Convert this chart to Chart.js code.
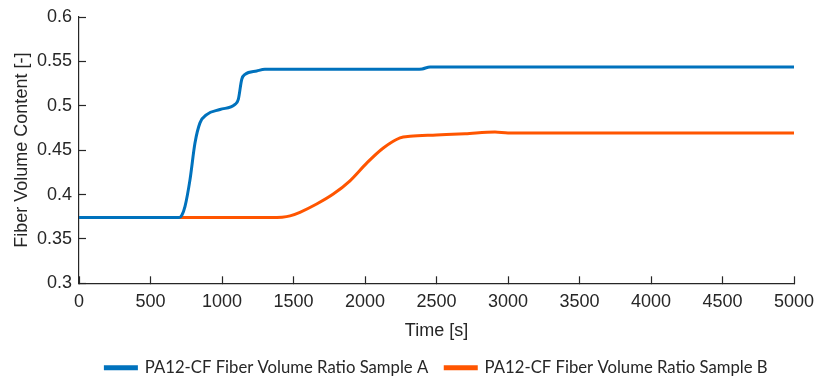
<!DOCTYPE html>
<html>
<head>
<meta charset="utf-8">
<script src="https://cdn.jsdelivr.net/npm/chart.js@4.4.0/dist/chart.umd.min.js"></script>
<style>
  html, body { margin: 0; padding: 0; background: #fff; }
</style>
</head>
<body>
<canvas id="myChart" width="814" height="378"></canvas>
<script>
// time [s] and fiber volume content for each sample
const timeA = [0, 700, 720, 741, 776, 811, 846, 893, 986, 1091, 1114, 1138, 1161, 1243, 1300, 2361, 2400, 2455, 5000];
const fvcA  = [0.374, 0.374, 0.377, 0.3863, 0.4165, 0.458, 0.4807, 0.4901, 0.4958, 0.5015, 0.5071, 0.5298, 0.5354, 0.5392, 0.541, 0.541, 0.5415, 0.5437, 0.5437];

const timeB = [0, 713, 1336, 1420, 1476, 1545, 1662, 1778, 1895, 2012, 2128, 2245, 2315, 2500, 2700, 2909, 3000, 5000];
const fvcB  = [0.374, 0.374, 0.374, 0.3745, 0.376, 0.380, 0.3893, 0.4005, 0.4155, 0.4354, 0.4524, 0.4638, 0.4656, 0.467, 0.4685, 0.4705, 0.4694, 0.4694];

const xTicks = [0, 500, 1000, 1500, 2000, 2500, 3000, 3500, 4000, 4500, 5000];
const yTicks = [0.3, 0.35, 0.4, 0.45, 0.5, 0.55, 0.6];

const labelA = "PA12-CF Fiber Volume Ratio Sample A";
const labelB = "PA12-CF Fiber Volume Ratio Sample B";

const blue = "#0072BD";
const orange = "#FF5500";
const axisColor = "#262626";

const pts = (xs, ys) => xs.map((x, i) => ({ x: x, y: ys[i] }));

// drop the label overhang chart.js adds around the plot area
const noOverhang = s => { s.paddingTop = 0; s.paddingBottom = 0; s.paddingLeft = 0; s.paddingRight = 0; };

const ctx = document.getElementById("myChart");
new Chart(ctx, {
  type: "line",
  data: {
    datasets: [
      {
        label: labelA,
        data: pts(timeA, fvcA),
        borderColor: blue,
        backgroundColor: blue,
        borderWidth: 3,
        pointRadius: 0,
        cubicInterpolationMode: "monotone"
      },
      {
        label: labelB,
        data: pts(timeB, fvcB),
        borderColor: orange,
        backgroundColor: orange,
        borderWidth: 3,
        pointRadius: 0,
        cubicInterpolationMode: "monotone"
      }
    ]
  },
  options: {
    responsive: false,
    animation: false,
    layout: { padding: { top: 17, right: 20, left: 0, bottom: -8 } },
    plugins: {
      tooltip: { enabled: false },
      legend: {
        position: "bottom",
        fullSize: false,
        labels: {
          boxWidth: 31,
          boxHeight: 2,
          padding: 17,
          color: "#262626",
          font: { family: "Lato", size: 16.7 }
        }
      }
    },
    scales: {
      x: {
        type: "linear",
        min: 0,
        max: 5000,
        afterBuildTicks: s => { s.ticks = xTicks.map(v => ({ value: v })); },
        afterFit: s => { s.height = 59; noOverhang(s); },
        grid: { drawOnChartArea: false, tickLength: -7, color: axisColor, tickWidth: 1.2 },
        border: { color: axisColor, width: 1.2 },
        ticks: {
          color: axisColor,
          padding: 15,
          maxRotation: 0,
          font: { family: "Liberation Sans", size: 18 },
          callback: v => String(v)
        },
        title: {
          display: true,
          text: "Time [s]",
          color: axisColor,
          padding: { top: 6, bottom: 0 },
          font: { family: "Liberation Sans", size: 18 }
        }
      },
      y: {
        min: 0.3,
        max: 0.6,
        afterBuildTicks: s => { s.ticks = yTicks.map(v => ({ value: v })); },
        afterFit: s => { s.width = 79; noOverhang(s); },
        grid: { drawOnChartArea: false, tickLength: -7, color: axisColor, tickWidth: 1.2 },
        border: { color: axisColor, width: 1.2 },
        ticks: {
          color: axisColor,
          padding: 14,
          font: { family: "Liberation Sans", size: 18 },
          callback: v => String(Number(v.toFixed(2)))
        },
        title: {
          display: true,
          text: "Fiber Volume Content [-]",
          color: axisColor,
          padding: { top: 11, bottom: 0 },
          font: { family: "Liberation Sans", size: 18 }
        }
      }
    }
  }
});
</script>
</body>
</html>
